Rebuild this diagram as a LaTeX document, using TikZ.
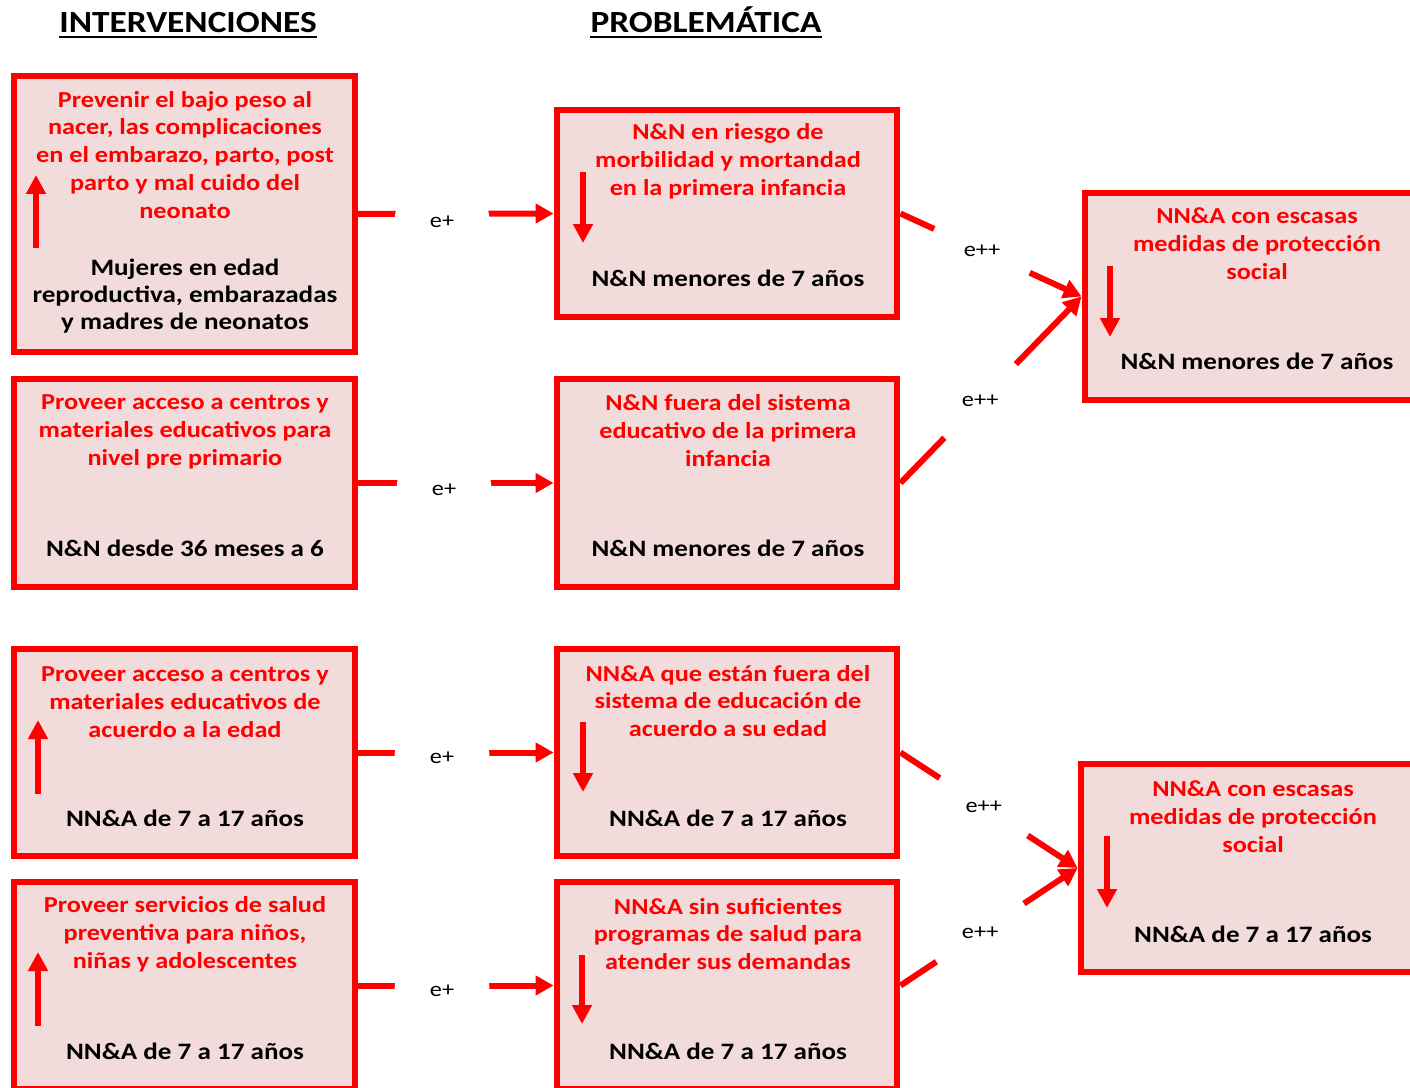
\documentclass[tikz,border=0pt]{standalone}
\usepackage{fontspec}
\setmainfont{Carlito}[FakeStretch=1.15]
\usetikzlibrary{arrows.meta,positioning}
\definecolor{boxfill}{RGB}{242,220,219}
\tikzset{
  box/.style={draw=red, fill=boxfill, line width=0.12cm, minimum width=6.82cm, minimum height=4.16cm, inner sep=0pt},
  ttl/.style={text=red, font=\fontsize{13}{15.9}\selectfont\bfseries, align=center, inner sep=0pt},
  who/.style={text=black, font=\fontsize{13.4}{15.6}\selectfont\bfseries, align=center, inner sep=0pt},
  head/.style={font=\fontsize{17.5}{21}\selectfont\bfseries, inner sep=0pt, anchor=base},
  headline/.style={line width=0.05cm},
  link/.style={draw=red, line width=0.12cm, -{Triangle[length=0.36cm,width=0.38cm]}},
  gap/.style={circle, fill=white, minimum size=1.9cm, inner sep=0pt, font=\fontsize{12}{14}\selectfont},
  trend/.style={draw=red, line width=0.12cm, -{Triangle[length=0.38cm,width=0.38cm]}}
}
\begin{document}
\begin{tikzpicture}[x=0.02cm,y=-0.02cm]
\useasboundingbox (0,0) rectangle (1410,1088);
\clip (0,0) rectangle (1410,1088);
\node[head] (hI) at (188,33) {INTERVENCIONES};
\node[head] (hP) at (706,33) {PROBLEMÁTICA};
\draw[headline] ([yshift=-0.08cm]hI.base west) -- ([yshift=-0.08cm]hI.base east);
\draw[headline] ([yshift=-0.08cm]hP.base west) -- ([yshift=-0.08cm]hP.base east);

\node[box, minimum height=5.52cm] (A1) at (184.5,214) {};
\node[box] (A2) at (184.5,483) {};
\node[box] (A3) at (184.5,752.5) {};
\node[box] (A4) at (184.5,985.5) {};
\node[box] (B1) at (727,213.5) {};
\node[box] (B2) at (727,483) {};
\node[box] (B3) at (727,752.5) {};
\node[box] (B4) at (727,985.5) {};
\node[box] (C1) at (1255,296.5) {};
\node[box] (C2) at (1251,868) {};

\node[ttl] (A1t) at (185,155) {Prevenir el bajo peso al\\nacer, las complicaciones\\en el embarazo, parto, post\\parto y mal cuido del\\neonato};
\node[who] (A1w) at (185,296) {Mujeres en edad\\reproductiva, embarazadas\\y madres de neonatos};
\node[ttl] (A2t) at (185,432) {Proveer acceso a centros y\\materiales educativos para\\nivel pre primario};
\node[who] (A2w) at (185,548) {N\&N desde 36 meses a 6};
\node[ttl] (A3t) at (185,702) {Proveer acceso a centros y\\materiales educativos de\\acuerdo a la edad};
\node[who] (A3w) at (185,818) {NN\&A de 7 a 17 años};
\node[ttl] (A4t) at (185,934) {Proveer servicios de salud\\preventiva para niños,\\niñas y adolescentes};
\node[who] (A4w) at (185,1051) {NN\&A de 7 a 17 años};

\node[ttl] (B1t) at (728,161) {N\&N en riesgo de\\morbilidad y mortandad\\en la primera infancia};
\node[who] (B1w) at (728,278) {N\&N menores de 7 años};
\node[ttl] (B2t) at (728,431) {N\&N fuera del sistema\\educativo de la primera\\infancia};
\node[who] (B2w) at (728,548) {N\&N menores de 7 años};
\node[ttl] (B3t) at (728,701) {NN\&A que están fuera del\\sistema de educación de\\acuerdo a su edad};
\node[who] (B3w) at (728,818) {NN\&A de 7 a 17 años};
\node[ttl] (B4t) at (728,934) {NN\&A sin suficientes\\programas de salud para\\atender sus demandas};
\node[who] (B4w) at (728,1051) {NN\&A de 7 a 17 años};

\node[ttl] (C1t) at (1257,244) {NN\&A con escasas\\medidas de protección\\social};
\node[who] (C1w) at (1257,361) {N\&N menores de 7 años};
\node[ttl] (C2t) at (1253,817) {NN\&A con escasas\\medidas de protección\\social};
\node[who] (C2w) at (1253,934) {NN\&A de 7 a 17 años};

\draw[trend] (36,248) -- (36,175);
\draw[trend] (583,172) -- (583,243);
\draw[trend] (1110,266) -- (1110,337);
\draw[trend] (38,794) -- (38,720);
\draw[trend] (583,722) -- (583,792);
\draw[trend] (38,1026) -- (38,952);
\draw[trend] (582,955) -- (582,1024);
\draw[trend] (1107,836) -- (1107,908);

\draw[link] (A1.east) -- node[gap, pos=0.43, yshift=-0.16cm] {e+} (B1.west);
\draw[link] (A2.east) -- node[gap, pos=0.44, yshift=-0.14cm] {e+} (B2.west);
\draw[link] (A3.east) -- node[gap, pos=0.43, yshift=-0.1cm] {e+} (B3.west);
\draw[link] (A4.east) -- node[gap, pos=0.43, yshift=-0.1cm] {e+} (B4.west);
\draw[link] (B1.east) -- node[gap, pos=0.45, minimum size=2.1cm] {e++} (C1.west);
\draw[link] (B2.east) -- node[gap, pos=0.44, minimum size=2.05cm] {e++} (C1.west);
\draw[link] (B3.east) -- node[gap, pos=0.47, minimum size=2.1cm] {e++} (C2.west);
\draw[link] (B4.east) -- node[gap, pos=0.45, minimum size=2.1cm] {e++} (C2.west);
\end{tikzpicture}
\end{document}
